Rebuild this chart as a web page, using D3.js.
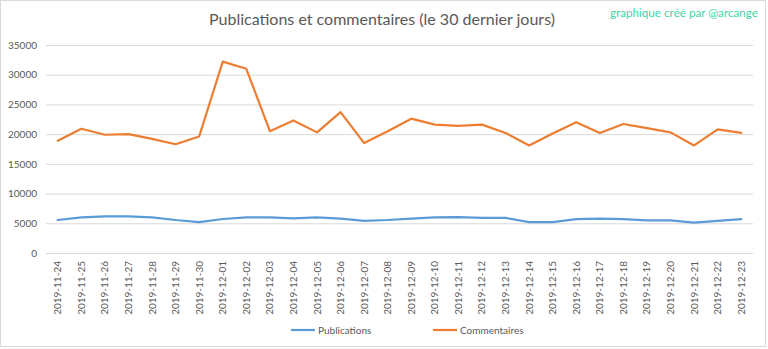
<!DOCTYPE html>
<html><head><meta charset="utf-8">
<script src="https://cdn.jsdelivr.net/npm/d3@7"></script>
<style>body{margin:0;background:#fff;} svg{display:block;}</style>
</head><body><svg id="c" width="768" height="349"></svg>
<script>
const dates = ["2019-11-24","2019-11-25","2019-11-26","2019-11-27","2019-11-28","2019-11-29","2019-11-30","2019-12-01","2019-12-02","2019-12-03","2019-12-04","2019-12-05","2019-12-06","2019-12-07","2019-12-08","2019-12-09","2019-12-10","2019-12-11","2019-12-12","2019-12-13","2019-12-14","2019-12-15","2019-12-16","2019-12-17","2019-12-18","2019-12-19","2019-12-20","2019-12-21","2019-12-22","2019-12-23"];
const publications = [5550,6000,6170,6170,6000,5550,5200,5720,6000,6000,5830,6000,5800,5400,5550,5800,6000,6050,5900,5900,5200,5200,5700,5800,5700,5500,5500,5100,5400,5700];
const commentaires = [18900,20900,19900,20000,19200,18300,19600,32200,31000,20500,22300,20300,23700,18500,20500,22600,21600,21400,21600,20200,18100,20100,22000,20200,21700,21000,20300,18100,20800,20200];
const yTicks = [0,5000,10000,15000,20000,25000,30000,35000];
const seriesNames = ["Publications","Commentaires"];
const colors = ["#5B9BD5","#ED7D31"];

const svg = d3.select("#c");
const font = "Lato, 'Open Sans', sans-serif";
svg.append("rect").attr("x",0.5).attr("y",0.5).attr("width",765).attr("height",346)
  .attr("fill","#fff").attr("stroke","#D9D9D9");

const x = d3.scaleBand().domain(dates).range([46,753]);
const y = d3.scaleLinear().domain([0,35000]).range([253,45]);

svg.append("g").selectAll("line").data(yTicks).join("line")
  .attr("x1",46).attr("x2",753).attr("y1",d=>y(d)+0.5).attr("y2",d=>y(d)+0.5)
  .attr("stroke","#D9D9D9").attr("stroke-width",1);

const ya = svg.append("g").attr("transform","translate(46,0)")
  .call(d3.axisLeft(y).tickValues(yTicks).tickSize(0).tickPadding(9).tickFormat(d3.format("d")));
ya.select(".domain").remove();
ya.selectAll("text").attr("fill","#595959").style("font-family",font).style("font-size","10px");

const xa = svg.append("g").attr("transform","translate(0,253)")
  .call(d3.axisBottom(x).tickSize(0).tickPadding(0));
xa.select(".domain").remove();
xa.selectAll("text").attr("fill","#595959").style("font-family",font).style("font-size","10px")
  .attr("text-anchor","end").attr("dy","0.35em").attr("dx",0)
  .attr("transform","translate(0,8) rotate(-90)").attr("x",0).attr("y",0);

const line = d3.line().x(d=>x(d.date)+x.bandwidth()/2).y(d=>y(d.v));
[publications, commentaires].forEach((s,i)=>{
  svg.append("path").datum(s.map((v,j)=>({date:dates[j],v})))
    .attr("d",line).attr("fill","none").attr("stroke",colors[i])
    .attr("stroke-width",2.2).attr("stroke-linejoin","round").attr("stroke-linecap","round");
});

svg.append("text").attr("x",382).attr("y",25).attr("text-anchor","middle")
  .attr("fill","#595959").style("font-family",font).style("font-size","16px")
  .text("Publications et commentaires (le 30 dernier jours)");
svg.append("text").attr("x",758).attr("y",17).attr("text-anchor","end")
  .attr("fill","#3ED6A6").style("font-family",font).style("font-size","11.7px")
  .text("graphique créé par @arcange");

const legX = [291,433];
seriesNames.forEach((n,i)=>{
  svg.append("line").attr("x1",legX[i]).attr("x2",legX[i]+24).attr("y1",330).attr("y2",330)
    .attr("stroke",colors[i]).attr("stroke-width",2.2);
  svg.append("text").attr("x",legX[i]+27).attr("y",330).attr("dy","0.35em")
    .attr("fill","#595959").style("font-family",font).style("font-size","10px").text(n);
});
</script></body></html>
